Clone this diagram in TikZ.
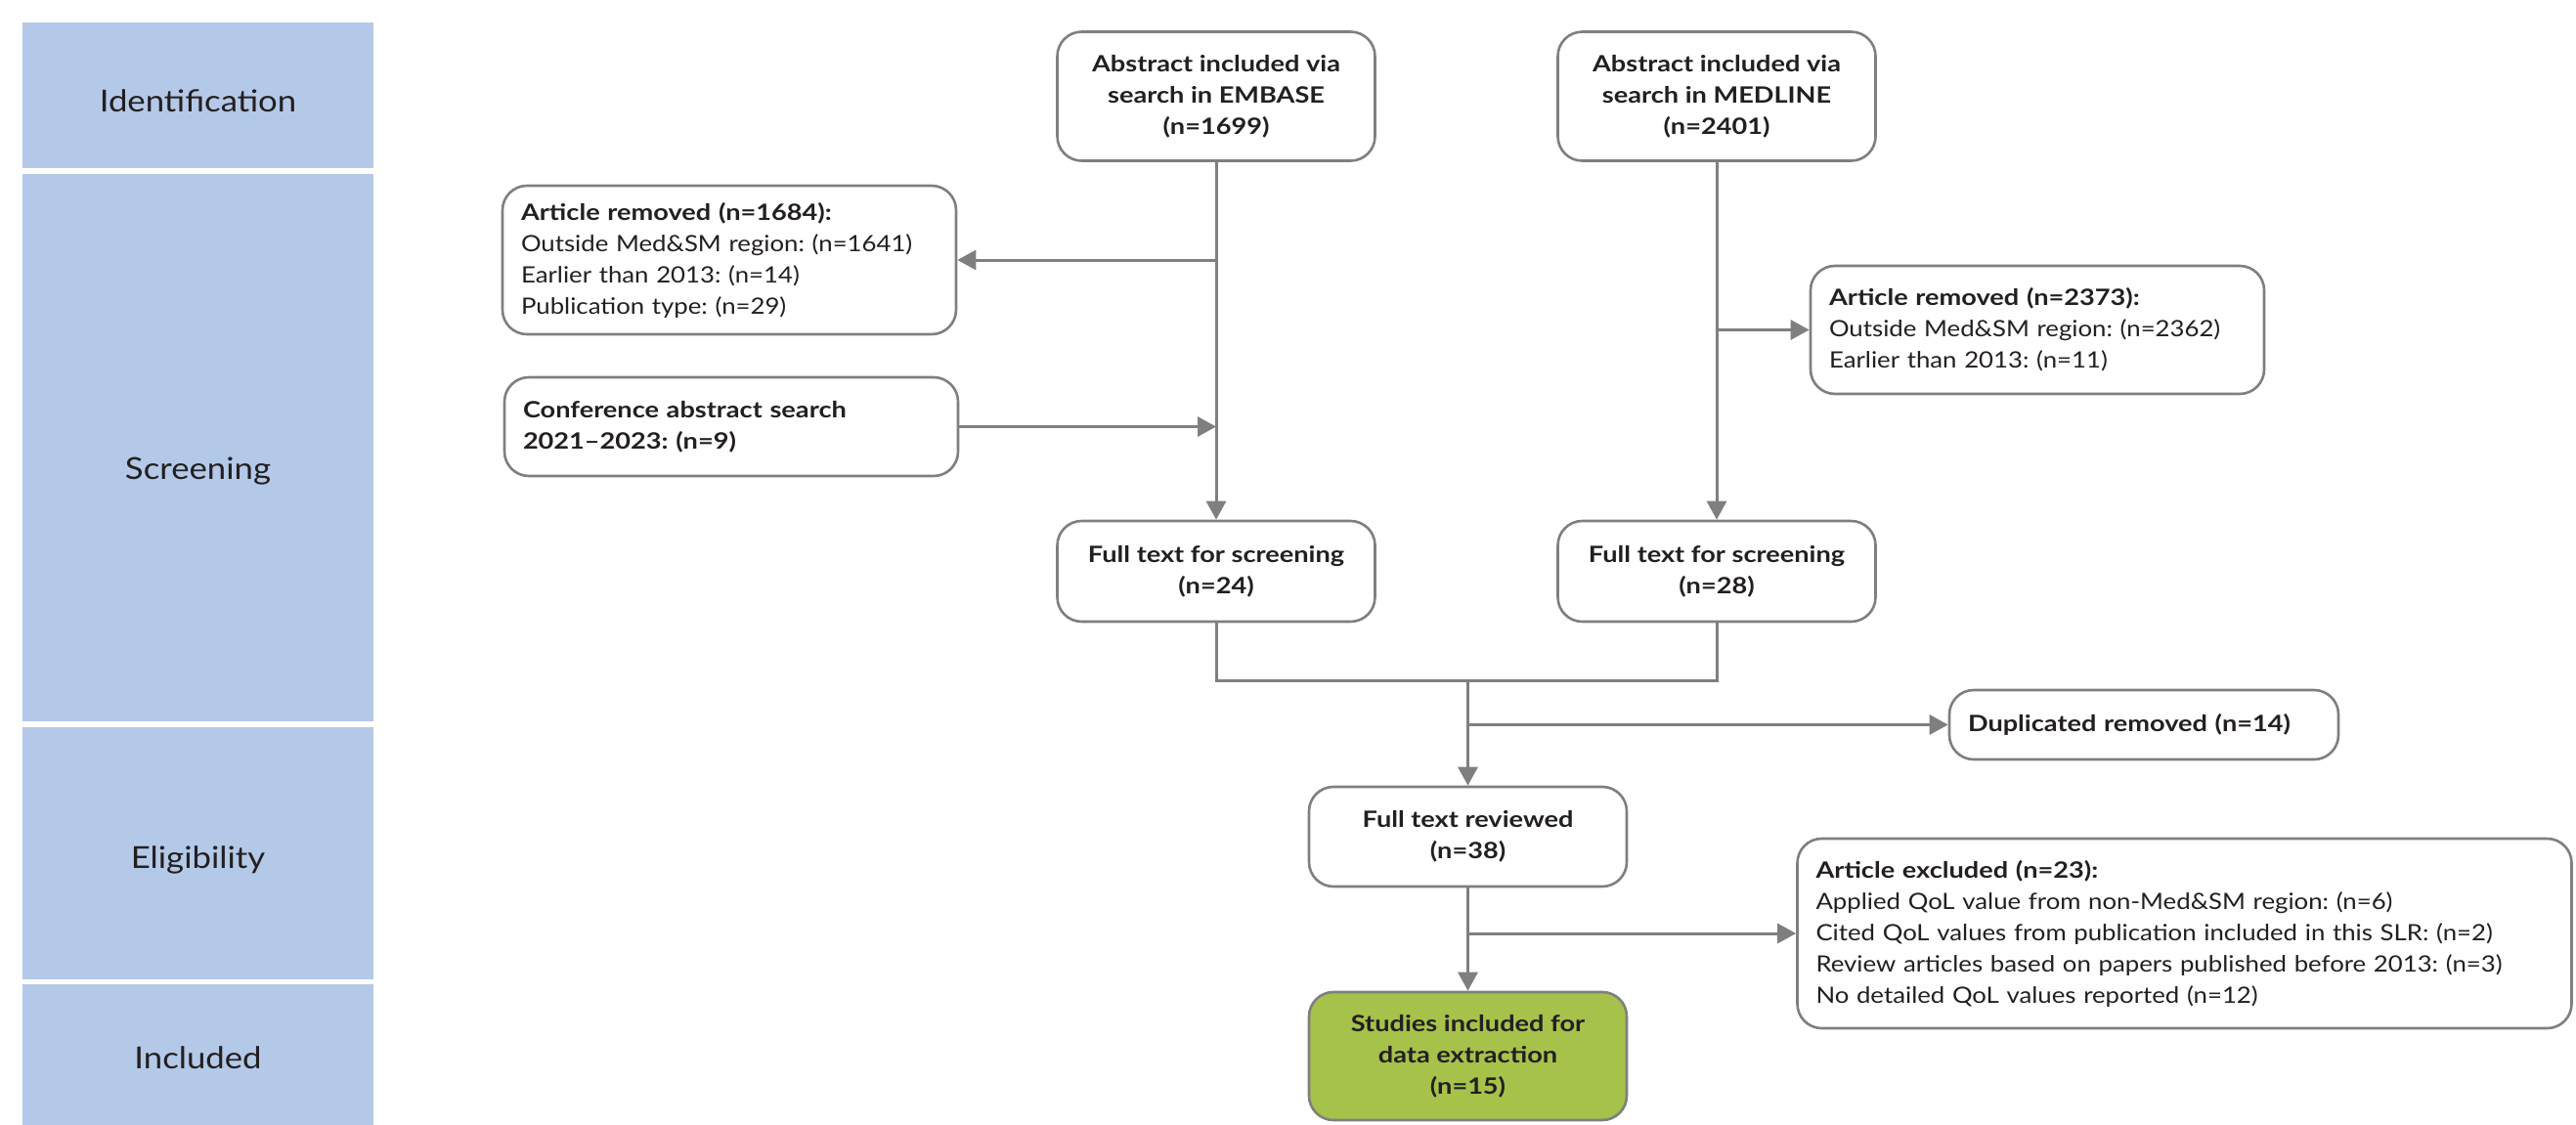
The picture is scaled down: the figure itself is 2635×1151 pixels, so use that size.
\documentclass[tikz,border=0pt]{standalone}
\usepackage{fontspec}
\setmainfont{Lato}[FakeStretch=1.12, BoldFeatures={FakeStretch=1.18}]
\usetikzlibrary{arrows.meta}
\definecolor{band}{HTML}{B4C9E8}
\definecolor{gline}{HTML}{7F7F7F}
\definecolor{txt}{HTML}{231F20}
\definecolor{grn}{HTML}{A6C24A}
\newcommand{\boxfont}{\fontsize{11.5}{16}\selectfont}
\newcommand{\bandfont}{\fontsize{15.5}{18}\selectfont}
\frenchspacing
\begin{document}
\begin{tikzpicture}[x=0.5pt,y=-0.5pt,
  box/.style={draw=gline, line width=1.3pt, rounded corners=12.5pt, fill=white, text=txt,
    font=\boxfont, inner sep=0pt, align=center},
  lbox/.style={box, align=left, text width=#1, inner xsep=9.5pt},
  arr/.style={draw=gline, line width=1.5pt, -{Triangle[length=9.5pt,width=10pt]}},
  ln/.style={draw=gline, line width=1.5pt},
  bandlbl/.style={font=\bandfont, text=txt}]
\useasboundingbox (0,0) rectangle (2635,1151);
% phase bands
\fill[band] (23,23) rectangle (382,172);
\fill[band] (23,178) rectangle (382,738);
\fill[band] (23,744) rectangle (382,1002);
\fill[band] (23,1007) rectangle (382,1151);
\node[bandlbl] (lid) at (202.5,103) {Identification};
\node[bandlbl] (lsc) at (202.5,482) {Screening};
\node[bandlbl] (lel) at (202.5,880) {Eligibility};
\node[bandlbl] (lin) at (202.5,1082) {Included};
% boxes
\node[box, minimum width=162.5pt, minimum height=66pt] (emb) at (1244,98.5)
  {\textbf{Abstract included via}\\\textbf{search in EMBASE}\\\textbf{(n=1699)}};
\node[box, minimum width=162.5pt, minimum height=66pt] (med) at (1756,98.5)
  {\textbf{Abstract included via}\\\textbf{search in MEDLINE}\\\textbf{(n=2401)}};
\node[lbox=213pt, minimum height=76pt] (rem1) at (746,266)
  {\textbf{Article removed (n=1684):}\\Outside Med\&SM region: (n=1641)\\Earlier than 2013: (n=14)\\Publication type: (n=29)};
\node[lbox=213pt, minimum height=50.5pt] (conf) at (748,436.5)
  {\textbf{Conference abstract search}\\\textbf{2021--2023: (n=9)}};
\node[lbox=213pt, minimum height=65.5pt] (rem2) at (2084,337.5)
  {\textbf{Article removed (n=2373):}\\Outside Med\&SM region: (n=2362)\\Earlier than 2013: (n=11)};
\node[box, minimum width=162.5pt, minimum height=51.5pt] (fs1) at (1244,584.5)
  {\textbf{Full text for screening}\\\textbf{(n=24)}};
\node[box, minimum width=162.5pt, minimum height=51.5pt] (fs2) at (1756,584.5)
  {\textbf{Full text for screening}\\\textbf{(n=28)}};
\node[lbox=180pt, minimum height=35.5pt] (dup) at (2193,741.5)
  {\textbf{Duplicated removed (n=14)}};
\node[box, minimum width=162.5pt, minimum height=51pt] (ftr) at (1501.5,856)
  {\textbf{Full text reviewed}\\\textbf{(n=38)}};
\node[lbox=377pt, minimum height=97pt] (exc) at (2234.5,955)
  {\textbf{Article excluded (n=23):}\\Applied QoL value from non-Med\&SM region: (n=6)\\Cited QoL values from publication included in this SLR: (n=2)\\Review articles based on papers published before 2013: (n=3)\\No detailed QoL values reported (n=12)};
\node[box, fill=grn, minimum width=162.5pt, minimum height=65.5pt] (inc) at (1501.5,1080.5)
  {\textbf{Studies included for}\\\textbf{data extraction}\\\textbf{(n=15)}};
% connectors
\draw[arr] (emb.south) -- (fs1.north);
\draw[arr] (med.south) -- (fs2.north);
\draw[arr] (emb.south |- rem1.east) -- (rem1.east);
\draw[arr] (conf.east) -- (emb.south |- conf.east);
\draw[arr] (med.south |- rem2.west) -- (rem2.west);
\coordinate (m) at (1501.5,696);
\draw[ln] (fs1.south) |- (m) -| (fs2.south);
\draw[arr] (m) -- (ftr.north);
\draw[arr] (m |- dup.west) -- (dup.west);
\draw[arr] (ftr.south) -- (inc.north);
\draw[arr] (ftr.south |- exc.west) -- (exc.west);
\end{tikzpicture}
\end{document}
